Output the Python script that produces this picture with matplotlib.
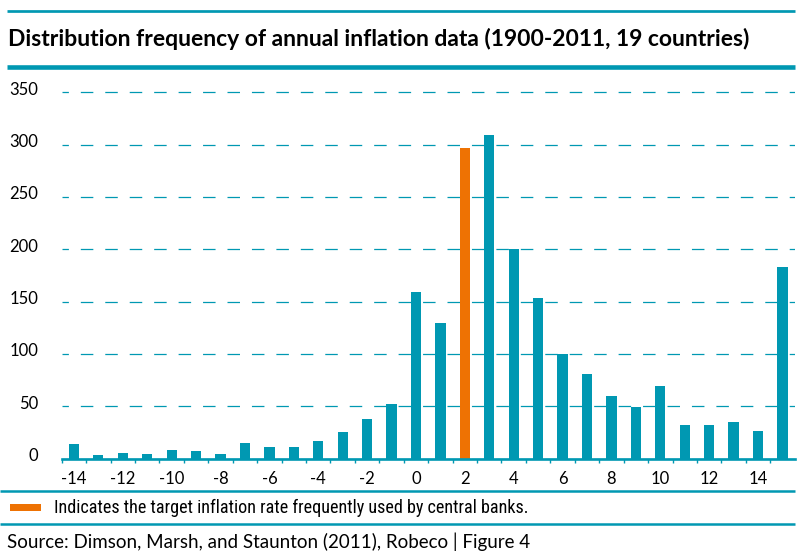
import matplotlib
matplotlib.use("Agg")
import matplotlib.pyplot as plt
from matplotlib.lines import Line2D
from matplotlib.patches import Rectangle
from matplotlib.transforms import ScaledTranslation
from matplotlib import font_manager

# ---------------- data ----------------
bins = list(range(-14, 16))
counts = [14, 3, 5, 4, 8, 7, 4, 15, 11, 11, 17, 25, 38, 52, 159, 130,
          297, 309, 200, 153, 100, 81, 60, 49, 69, 32, 32, 35, 26, 183]
highlight_bin = 2
y_ticks = [0, 50, 100, 150, 200, 250, 300, 350]
x_tick_labels = list(range(-14, 15, 2))

title = "Distribution frequency of annual inflation data (1900-2011, 19 countries)"
legend_text = "Indicates the target inflation rate frequently used by central banks."
source_text = "Source: Dimson, Marsh, and Staunton (2011), Robeco | Figure 4"

TEAL = "#0098B2"
ORANGE = "#EE7203"

plt.rcParams["axes.unicode_minus"] = False
plt.rcParams["lines.scale_dashes"] = False

names = {f.name for f in font_manager.fontManager.ttflist}
REG = "Lato" if "Lato" in names else "DejaVu Sans"
NARROW = REG
for cand in ["Liberation Sans Narrow", "Roboto Condensed", "DejaVu Sans Condensed"]:
    if cand in names:
        NARROW = cand
        break

W, H = 810, 560
fig = plt.figure(figsize=(W / 100, H / 100), dpi=100)
x0, x1 = 61.7, 794.7
y0 = 458.6
ymax = 360
ytop = y0 - ymax * 1.0467
ax = fig.add_axes([x0 / W, (H - y0) / H, (x1 - x0) / W, (y0 - ytop) / H])

colors = [ORANGE if b == highlight_bin else TEAL for b in bins]
ax.bar(bins, counts, width=0.42, color=colors, zorder=3)

ax.set_xlim(bins[0] - 0.5, bins[-1] + 0.5)
ax.set_ylim(0, ymax)

# grid
ax.set_yticks(y_ticks)
ax.grid(axis="y", color=TEAL, linewidth=0.9, linestyle=(4.4, (9.0, 8.6)), zorder=0)
ax.set_axisbelow(True)

# spines
for s in ["top", "right", "left"]:
    ax.spines[s].set_visible(False)
ax.spines["bottom"].set_color(TEAL)
ax.spines["bottom"].set_linewidth(1.9)
ax.spines["bottom"].set_zorder(4)

# x ticks
ax.set_xticks(x_tick_labels)
ax.set_xticklabels([str(v) for v in x_tick_labels])
ax.set_xticks([b - 0.5 for b in bins], minor=True)
ax.tick_params(axis="x", which="major", length=0, pad=9.0, labelsize=12,
               labelcolor="black")
ax.tick_params(axis="x", which="minor", length=3.2, width=1.0, color=TEAL)
ax.tick_params(axis="y", length=0, pad=17, labelsize=12, labelcolor="black")
for lab in ax.get_xticklabels() + ax.get_yticklabels():
    lab.set_family(REG)
off = ScaledTranslation(0, 4.0 / 100, fig.dpi_scale_trans)
for lab in ax.get_yticklabels():
    lab.set_transform(lab.get_transform() + off)

# horizontal rules
def rule(xa, xb, y, lw):
    fig.add_artist(Line2D([xa / W, xb / W], [1 - y / H, 1 - y / H],
                          transform=fig.transFigure, color=TEAL, linewidth=lw,
                          solid_capstyle="butt"))

rule(7, 794.5, 11.3, 1.95)
rule(7, 794.5, 67.3, 3.3)
rule(0, 795, 491.2, 1.8)
rule(0, 795, 523.9, 1.8)

# texts
t_title = fig.text(8 / W, 1 - 46 / H, title, ha="left", va="baseline",
                   fontsize=15, fontweight="bold", family=REG, color="black")
t_leg = fig.text(54 / W, 1 - 513.3 / H, legend_text, ha="left", va="baseline",
                 fontsize=11.5, family=NARROW, color="black")
t_src = fig.text(7 / W, 1 - 548 / H, source_text, ha="left", va="baseline",
                 fontsize=14, family=REG, color="black")
fig.add_artist(Rectangle((10 / W, 1 - 511 / H), 30.7 / W, 7 / H,
                         transform=fig.transFigure, color=ORANGE, linewidth=0))

# fit text widths to the reference
fig.canvas.draw()
r = fig.canvas.get_renderer()
for t, target in [(t_title, 743), (t_leg, 473), (t_src, 523)]:
    w = t.get_window_extent(r).width
    t.set_fontsize(t.get_fontsize() * target / w)

fig.savefig("out.png", dpi=100)
